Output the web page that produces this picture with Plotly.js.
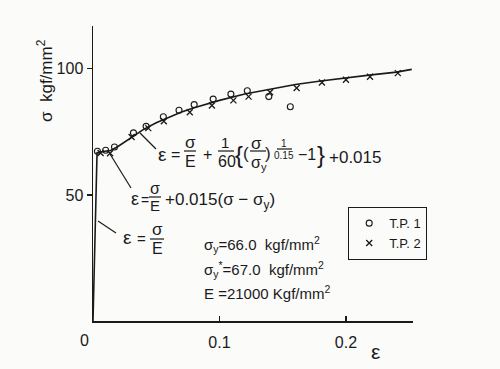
<!DOCTYPE html>
<html>
<head>
<meta charset="utf-8">
<script src="https://cdn.plot.ly/plotly-3.0.1.min.js"></script>
<style>html,body{margin:0;padding:0;background:#fbfbfa;}#chart{width:500px;height:369px;}</style>
</head>
<body>
<div id="chart"></div>
<script>
// ---- data ----
const curveEps = [0, 0.0032, 0.008, 0.014, 0.020, 0.030, 0.040, 0.050, 0.060, 0.070, 0.080, 0.090, 0.100, 0.120, 0.140, 0.160, 0.180, 0.200, 0.220, 0.240, 0.252];
const curveSig = [0, 66.8, 67.2, 67.6, 69.3, 72.8, 76.0, 78.6, 80.9, 82.9, 84.6, 86.1, 87.5, 90.0, 92.0, 93.8, 95.2, 96.5, 97.6, 98.7, 99.8];

const tp1Eps = [0.0035, 0.0100, 0.0170, 0.0320, 0.0420, 0.0556, 0.0680, 0.0800, 0.0950, 0.1090, 0.1220, 0.1390, 0.1560];
const tp1Sig = [67.3, 67.7, 69.0, 74.6, 77.2, 81.0, 83.6, 85.8, 88.0, 90.0, 91.3, 89.0, 85.0];

const tp2Eps = [0.0060, 0.0135, 0.0305, 0.0437, 0.0560, 0.0765, 0.0940, 0.1110, 0.1230, 0.1400, 0.1610, 0.1810, 0.2000, 0.2190, 0.2410];
const tp2Sig = [66.6, 66.5, 73.0, 76.5, 79.2, 82.8, 85.5, 87.5, 89.0, 90.7, 92.4, 94.6, 95.7, 96.9, 98.3];

const seriesNames = ['T.P.\u00a01', 'T.P.\u00a02'];
const xTickVals = [0.1, 0.2];
const xTickText = ['0.1', '0.2'];
const yTickVals = [50, 100];
const yTickText = ['50', '100'];

// ---- layout helpers (pixel -> paper for decorations) ----
const L = 93, T = 26, W = 320, H = 295;
const FONT = 'Liberation Sans, Arial, sans-serif';
const INK = '#1a1a1a';
const px = v => (v - L) / W;
const py = v => (T + H - v) / H;
const annotations = [];
const shapes = [];
function txt(s, x, y, size, anchor) {
  annotations.push({text: s, xref: 'paper', yref: 'paper', x: px(x), y: py(y),
    xanchor: anchor || 'center', yanchor: 'middle', showarrow: false,
    font: {family: FONT, size: size, color: INK}});
}
function seg(x0, y0, x1, y1, w) {
  shapes.push({type: 'line', xref: 'paper', yref: 'paper', x0: px(x0), y0: py(y0), x1: px(x1), y1: py(y1),
    line: {color: INK, width: w || 1.2}});
}

// equation 1
txt('ε', 162, 154, 19); txt('=', 175, 154, 16);
txt('σ', 190, 142, 17); seg(184, 151, 196, 151); txt('E', 190, 162, 16);
txt('+', 207, 154, 16);
txt('1', 225, 142, 15); seg(218, 151, 234, 151); txt('60', 227, 162, 16);
txt('{', 239, 154, 24); txt('(', 246, 153, 17);
txt('σ', 256, 143, 17); seg(250, 151, 266, 151); txt('σ<sub>y</sub>', 259, 163, 16);
txt(')', 268, 153, 17);
txt('1', 284, 143, 10); seg(277, 149, 292, 149); txt('0.15', 284, 155, 10);
txt('−1', 307, 154, 16);
txt('}', 321, 154, 24);
txt('+0.015', 327, 157, 17, 'left');
seg(140, 133, 156, 149);

// equation 2
txt('ε', 135, 199, 18); txt('=', 145, 200, 14);
txt('σ', 155, 189, 16); seg(149, 197, 161, 197); txt('E', 155, 206, 15);
txt('+0.015(σ\u00a0−\u00a0σ<sub>y</sub>)', 163, 201, 17, 'left');
seg(110, 154, 131, 188);

// equation 3
txt('ε', 127, 237, 19); txt('=', 141, 238, 15);
txt('σ', 157, 229, 17); seg(150, 239, 164, 239); txt('E', 157, 248, 16);
seg(98, 221, 116, 233);

// constants
txt('σ<sub>y</sub>=66.0\u00a0\u00a0kgf/mm<sup>2</sup>', 202, 244, 15, 'left');
txt('σ<sub>y</sub><sup>*</sup>=67.0\u00a0\u00a0kgf/mm<sup>2</sup>', 202, 269, 15, 'left');
txt('E\u00a0=21000\u00a0Kgf/mm<sup>2</sup>', 202, 292, 15, 'left');

// axis titles and origin label
annotations.push({text: 'σ\u00a0\u00a0kgf/mm<sup>2</sup>', xref: 'paper', yref: 'paper', x: px(45), y: py(81),
  textangle: -90, showarrow: false, xanchor: 'center', yanchor: 'middle', font: {family: FONT, size: 17, color: INK}});
txt('ε', 375, 351, 21);
txt('0', 84, 340, 16);

const traces = [
  {x: curveEps, y: curveSig, mode: 'lines', showlegend: false, hoverinfo: 'skip',
   line: {color: INK, width: 1.6}},
  {x: tp1Eps, y: tp1Sig, mode: 'markers', name: seriesNames[0],
   marker: {symbol: 'circle-open', size: 6, color: INK, line: {width: 1.1, color: INK}}},
  {x: tp2Eps, y: tp2Sig, mode: 'markers', name: seriesNames[1],
   marker: {symbol: 'x-thin-open', size: 6, color: INK, line: {width: 1.3, color: INK}}}
];

const layout = {
  width: 500, height: 369,
  margin: {l: L, r: 500 - L - W, t: T, b: 369 - T - H, pad: 0},
  paper_bgcolor: '#fbfbfa', plot_bgcolor: '#fbfbfa',
  font: {family: FONT, color: INK},
  showlegend: true,
  legend: {x: px(348), y: py(207), xanchor: 'left', yanchor: 'top',
    bordercolor: INK, borderwidth: 1.2, bgcolor: 'rgba(0,0,0,0)',
    font: {family: FONT, size: 13, color: INK}, itemwidth: 30, tracegroupgap: 0},
  xaxis: {range: [0, 0.253], showgrid: false, zeroline: false, showline: true,
    linecolor: INK, linewidth: 1.5, ticks: 'inside', ticklen: 5, tickwidth: 1.2, tickcolor: INK,
    ticklabelstandoff: 6,
    tickvals: xTickVals, ticktext: xTickText, tickfont: {family: FONT, size: 16, color: INK}},
  yaxis: {range: [0, 117], showgrid: false, zeroline: false, showline: true,
    linecolor: INK, linewidth: 1.5, ticks: 'outside', ticklen: 5, tickwidth: 1.2, tickcolor: INK,
    tickvals: yTickVals, ticktext: yTickText, tickfont: {family: FONT, size: 16, color: INK}},
  annotations: annotations,
  shapes: shapes
};

Plotly.newPlot('chart', traces, layout, {displayModeBar: false, staticPlot: true});
</script>
</body>
</html>
